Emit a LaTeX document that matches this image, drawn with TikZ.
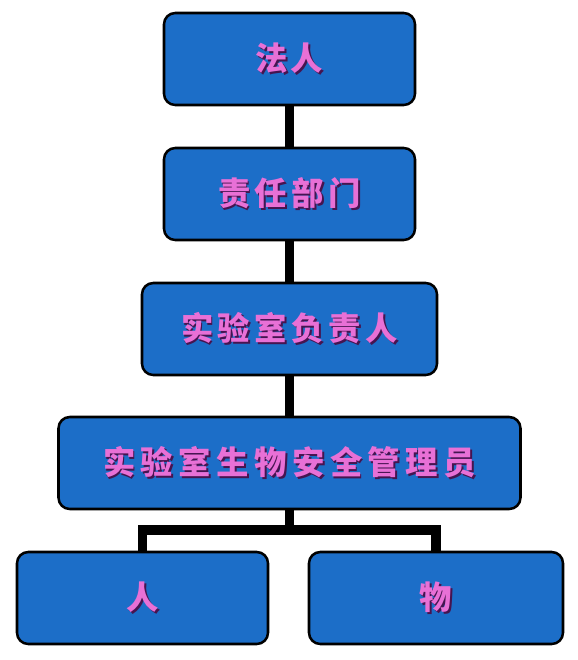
\documentclass[tikz,border=0pt]{standalone}
\usepackage{fontspec}
\newfontfamily\cjk{Noto Sans CJK SC}
\usetikzlibrary{positioning, calc}

\definecolor{boxblue}{RGB}{28,110,200}
\definecolor{txtpink}{RGB}{232,112,214}
\definecolor{txtshadow}{RGB}{70,20,80}

% 带阴影的文字
\newcommand\shtext[2]{{\cjk\bfseries\fontsize{23}{23}\selectfont\addfontfeature{LetterSpace=#1}%
  \rlap{\kern1.3pt\raisebox{-1.3pt}{\textcolor{txtshadow}{#2}}}\textcolor{txtpink}{#2}}}

\begin{document}
\begin{tikzpicture}[x=0.025cm, y=-0.025cm]
	\tikzset{
		orgbox/.style={draw=black, line width=1.8pt, fill=boxblue, rounded corners=8pt,
			minimum height={92*0.025cm}, inner sep=0pt},
		link/.style={draw=black, line width=6.6pt}
	}
	\useasboundingbox (0,0) rectangle (578,660);
	\fill[white] (0,0) rectangle (578,660);

	% 各级节点
	\node[orgbox, minimum width={251*0.025cm}] (fa) at (289.5,59) {\shtext{8}{法人}};
	\node[orgbox, minimum width={251*0.025cm}] (zr) at (289.5,194) {\shtext{14}{责任部门}};
	\node[orgbox, minimum width={295*0.025cm}] (fz) at (289.5,329) {\shtext{14}{实验室负责人}};
	\node[orgbox, minimum width={462*0.025cm}] (gly) at (289.5,463) {\shtext{17}{实验室生物安全管理员}};
	\node[orgbox, minimum width={251*0.025cm}] (ren) at (142.5,598) {\shtext{0}{人}};
	\node[orgbox, minimum width={254*0.025cm}] (wu) at (436,598) {\shtext{0}{物}};
	\coordinate (split) at (289.5,530);

	% 连线
	\draw[link] (fa.south) -- (zr.north);
	\draw[link] (zr.south) -- (fz.north);
	\draw[link] (fz.south) -- (gly.north);
	\draw[link] (gly.south) -- (split);
	\draw[link] (ren.north) |- (split) -| (wu.north);
\end{tikzpicture}
\end{document}
